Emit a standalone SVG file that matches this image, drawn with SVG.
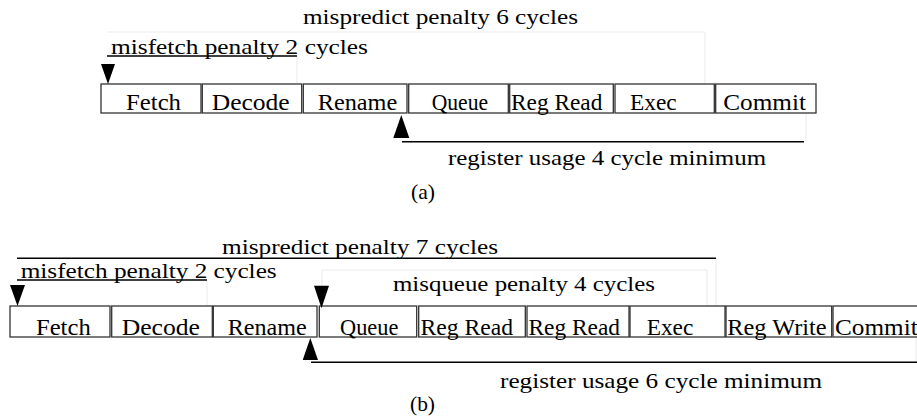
<svg xmlns="http://www.w3.org/2000/svg" width="917" height="417" viewBox="0 0 917 417">
<style>
.box{fill:none;stroke:#333;stroke-width:1.3}
.bt{font-family:"Liberation Serif","Times New Roman",serif;font-size:24px;fill:#000}
.lbl{font-family:"Liberation Serif","Times New Roman",serif;font-size:22px;fill:#000}
.ln{stroke:#000;stroke-width:1.5;fill:none}
.faint{stroke:#ebebeb;stroke-width:1;fill:none}
.arr{fill:#000}
</style>
<rect width="917" height="417" fill="#fff"/>
<!-- (a) -->
<g id="a-faint">
<path class="faint" d="M107 32H705V84M297 56V84M806 113V142"/>
</g>
<g id="a-fetch"><rect class="box" x="101" y="84" width="100" height="29"/><text class="bt" x="126" y="110" textLength="55" lengthAdjust="spacingAndGlyphs">Fetch</text></g>
<g id="a-decode"><rect class="box" x="202.3" y="84" width="99.4" height="29"/><text class="bt" x="211.7" y="110" textLength="78" lengthAdjust="spacingAndGlyphs">Decode</text></g>
<g id="a-rename"><rect class="box" x="303.3" y="84" width="103.7" height="29"/><text class="bt" x="317.7" y="110" textLength="79.6" lengthAdjust="spacingAndGlyphs">Rename</text></g>
<g id="a-queue"><rect class="box" x="408.7" y="84" width="99.6" height="29"/><text class="bt" x="431.7" y="110" textLength="56.3" lengthAdjust="spacingAndGlyphs">Queue</text></g>
<g id="a-regread"><rect class="box" x="509.7" y="84" width="103.6" height="29"/><text class="bt" x="511" y="110" textLength="91.3" lengthAdjust="spacingAndGlyphs">Reg Read</text></g>
<g id="a-exec"><rect class="box" x="615" y="84" width="99.3" height="29"/><text class="bt" x="630" y="110" textLength="46.7" lengthAdjust="spacingAndGlyphs">Exec</text></g>
<g id="a-commit"><rect class="box" x="715.7" y="84" width="100.3" height="29"/><text class="bt" x="723.3" y="110" textLength="82.7" lengthAdjust="spacingAndGlyphs">Commit</text></g>
<g id="a-connectors">
<path class="ln" d="M107 56H297M402 141.7H804"/>
<polygon class="arr" points="101,64 115,64 108,84"/>
<polygon class="arr" points="393.3,138 409.3,138 401.3,115"/>
</g>
<g id="a-labels">
<text class="lbl" x="303" y="24" textLength="275" lengthAdjust="spacingAndGlyphs">mispredict penalty 6 cycles</text>
<text class="lbl" x="111" y="53.5" textLength="257" lengthAdjust="spacingAndGlyphs">misfetch penalty 2 cycles</text>
<text class="lbl" x="448" y="165" textLength="318" lengthAdjust="spacingAndGlyphs">register usage 4 cycle minimum</text>
<text class="lbl" x="411" y="199" textLength="24" lengthAdjust="spacingAndGlyphs">(a)</text>
</g>
<!-- (b) -->
<g id="b-faint">
<path class="faint" d="M716 258V305M207 280V305M322 286V270H707V305M916 337V362"/>
</g>
<g id="b-fetch"><rect class="box" x="10" y="306" width="100" height="31"/><text class="bt" x="36" y="334.5" textLength="54.7" lengthAdjust="spacingAndGlyphs">Fetch</text></g>
<g id="b-decode"><rect class="box" x="111.7" y="306" width="100.6" height="31"/><text class="bt" x="121.7" y="334.5" textLength="78.3" lengthAdjust="spacingAndGlyphs">Decode</text></g>
<g id="b-rename"><rect class="box" x="213.3" y="306" width="103.7" height="31"/><text class="bt" x="227.7" y="334.5" textLength="79" lengthAdjust="spacingAndGlyphs">Rename</text></g>
<g id="b-queue"><rect class="box" x="319.3" y="306" width="97.4" height="31"/><text class="bt" x="340" y="334.5" textLength="58.3" lengthAdjust="spacingAndGlyphs">Queue</text></g>
<g id="b-regread1"><rect class="box" x="418.7" y="306" width="106.6" height="31"/><text class="bt" x="420.5" y="334.5" textLength="92.5" lengthAdjust="spacingAndGlyphs">Reg Read</text></g>
<g id="b-regread2"><rect class="box" x="527" y="306" width="102" height="31"/><text class="bt" x="528.5" y="334.5" textLength="91.5" lengthAdjust="spacingAndGlyphs">Reg Read</text></g>
<g id="b-exec"><rect class="box" x="630" y="306" width="95" height="31"/><text class="bt" x="646.7" y="334.5" textLength="46.6" lengthAdjust="spacingAndGlyphs">Exec</text></g>
<g id="b-regwrite"><rect class="box" x="726" y="306" width="105.7" height="31"/><text class="bt" x="727.3" y="334.5" textLength="99.4" lengthAdjust="spacingAndGlyphs">Reg Write</text></g>
<g id="b-commit"><rect class="box" x="833" y="306" width="100" height="31"/><text class="bt" x="835" y="334.5" textLength="82.7" lengthAdjust="spacingAndGlyphs">Commit</text></g>
<g id="b-connectors">
<path class="ln" d="M17 258.3H716M17 280H207M311 362.3H917"/>
<polygon class="arr" points="10,285 25,285 17.5,306"/>
<polygon class="arr" points="314,285.7 329,285.7 321.5,308.3"/>
<polygon class="arr" points="302.7,360 318,360 310.3,338"/>
</g>
<g id="b-labels">
<text class="lbl" x="222" y="254" textLength="276" lengthAdjust="spacingAndGlyphs">mispredict penalty 7 cycles</text>
<text class="lbl" x="20.7" y="277.5" textLength="256" lengthAdjust="spacingAndGlyphs">misfetch penalty 2 cycles</text>
<text class="lbl" x="393" y="291" textLength="262" lengthAdjust="spacingAndGlyphs">misqueue penalty 4 cycles</text>
<text class="lbl" x="500" y="388" textLength="322" lengthAdjust="spacingAndGlyphs">register usage 6 cycle minimum</text>
<text class="lbl" x="410" y="411" textLength="25" lengthAdjust="spacingAndGlyphs">(b)</text>
</g>
</svg>
